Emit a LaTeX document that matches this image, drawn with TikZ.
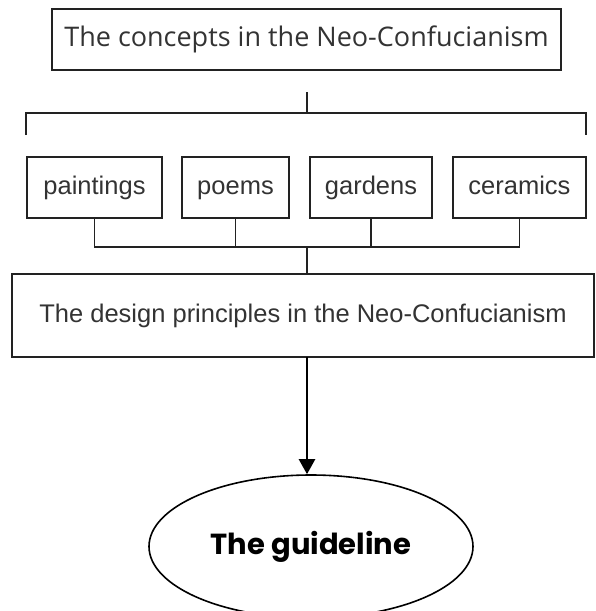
\documentclass[tikz,border=0pt]{standalone}
\usepackage{fontspec}
\setmainfont{Liberation Sans}
\newfontfamily\osans{Open Sans}
\newfontfamily\pop{Poppins}
\usetikzlibrary{arrows.meta,shapes.geometric}
\definecolor{txt}{HTML}{333333}
\definecolor{ln}{HTML}{222222}
\tikzset{
  box/.style={draw=ln, line width=1.6pt, inner sep=0pt, outer sep=0pt, text=txt,
    font=\fontsize{25.5}{30}\selectfont, minimum height=61pt},
  small/.style={text height=18pt, text depth=5pt},
  conn/.style={draw=ln, line width=1.6pt},
  arr/.style={draw=black, line width=2.4pt, -{Triangle[width=16pt,length=15pt]}},
}
\begin{document}
\begin{tikzpicture}[x=1pt,y=1pt]
\useasboundingbox (0,0) rectangle (595,-611);
% top box
\node[box, minimum width=509pt, font=\osans\fontsize{27}{32}\selectfont] (top) at (306.5,-39.5) {The concepts in the Neo-Confucianism};
% bracket
\coordinate (st) at (307,-92);
\coordinate (bk) at (307,-113);
\coordinate (bl) at (26,-135);
\coordinate (br) at (586,-135);
\draw[conn] (st) -- (bk);
\draw[conn] (bl) -- (bl |- bk) -- (br |- bk) -- (br);
% four boxes
\node[box, small, minimum width=135pt] (pa) at (94.5,-187.5) {paintings};
\node[box, small, minimum width=107pt] (po) at (235.5,-187.5) {poems};
\node[box, small, minimum width=122pt] (ga) at (371,-187.5) {gardens};
\node[box, small, minimum width=133pt] (ce) at (519.5,-187.5) {ceramics};
% design box
\node[box, minimum width=582pt, minimum height=83pt] (dp) at (303,-315.5) {The design principles in the Neo-Confucianism};
% ellipse
\node[ellipse, draw=black, line width=1.6pt, inner sep=0pt, minimum width=324pt, minimum height=143pt,
  font=\pop\bfseries\fontsize{29}{34}\selectfont] (gl) at (311,-546.5) {The guideline};
% connectors
\coordinate (hub) at (307,-247);
\draw[conn] (pa.south) -- (pa.south |- hub) -- (ce.south |- hub) -- (ce.south);
\draw[conn] (po.south) -- (po.south |- hub);
\draw[conn] (ga.south) -- (ga.south |- hub);
\draw[conn, line width=2pt] (hub) -- (hub |- dp.north);
\draw[arr] (hub |- dp.south) -- (hub |- gl.north);
\end{tikzpicture}
\end{document}
